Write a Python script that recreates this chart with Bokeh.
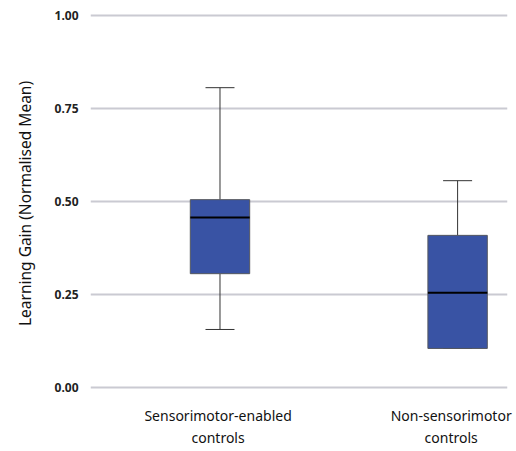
from bokeh.plotting import figure
from bokeh.models import Range1d, FixedTicker, ColumnDataSource
from bokeh.embed import file_html
from bokeh.resources import INLINE

categories = ["Sensorimotor-enabled\ncontrols", "Non-sensorimotor\ncontrols"]
lower_whisker = [0.156, 0.105]
q1 = [0.306, 0.105]
median = [0.457, 0.255]
q3 = [0.505, 0.409]
upper_whisker = [0.806, 0.556]
y_ticks = [0.0, 0.25, 0.5, 0.75, 1.0]

xpos = list(range(len(categories)))
box_w = 0.25
cap_w = 0.122
label_shift = [-0.008, -0.027]  # keep the right label inside the canvas

src = ColumnDataSource(dict(
    x=xpos,
    q1=q1, q3=q3, med=median, lo=lower_whisker, hi=upper_whisker,
    ml=[x - box_w / 2 for x in xpos], mr=[x + box_w / 2 for x in xpos],
    cl=[x - cap_w / 2 for x in xpos], cr=[x + cap_w / 2 for x in xpos],
))

p = figure(width=516, height=451, output_backend="svg", toolbar_location=None,
           x_range=Range1d(-0.545, 1.21), y_range=Range1d(-0.0215, 1.0108),
           min_border_left=90, min_border_right=9, min_border_top=11, min_border_bottom=56)
p.outline_line_color = None

# whiskers
p.segment(x0="x", x1="x", y0="q3", y1="hi", source=src, line_color="#333333", line_width=1)
p.segment(x0="x", x1="x", y0="lo", y1="q1", source=src, line_color="#333333", line_width=1)
p.segment(x0="cl", x1="cr", y0="hi", y1="hi", source=src, line_color="#333333", line_width=1)
p.segment(x0="cl", x1="cr", y0="lo", y1="lo", source=src, line_color="#333333", line_width=1)

# boxes
p.vbar(x="x", width=box_w, bottom="q1", top="q3", source=src,
       fill_color="#3953a4", line_color="#55585f", line_width=1)
p.segment(x0="ml", x1="mr", y0="med", y1="med", source=src, line_color="#000000", line_width=2)

# grid
p.xgrid.grid_line_color = None
p.ygrid.grid_line_color = "#cacad2"
p.ygrid.grid_line_width = 2
p.ygrid.ticker = FixedTicker(ticks=y_ticks)
p.ygrid.level = "underlay"

# y axis
p.yaxis.ticker = FixedTicker(ticks=y_ticks)
p.yaxis.major_label_overrides = {t: f"{t:.2f}" for t in y_ticks}
p.yaxis.axis_line_color = None
p.yaxis.major_tick_line_color = None
p.yaxis.minor_tick_line_color = None
p.yaxis.major_label_standoff = 6
p.yaxis.major_label_text_font = "Noto Sans"
p.yaxis.major_label_text_font_size = "12px"
p.yaxis.major_label_text_font_style = "bold"
p.yaxis.major_label_text_color = "#222222"
p.yaxis.axis_label = "Learning Gain (Normalised Mean)"
p.yaxis.axis_label_text_font = "Noto Sans"
p.yaxis.axis_label_text_font_size = "15.5px"
p.yaxis.axis_label_text_font_style = "normal"
p.yaxis.axis_label_text_color = "#111111"
p.yaxis.axis_label_standoff = 16

# x axis
lab_pos = [x + s for x, s in zip(xpos, label_shift)]
p.xaxis.ticker = FixedTicker(ticks=lab_pos)
p.xaxis.major_label_overrides = {x: c for x, c in zip(lab_pos, categories)}
p.xaxis.axis_line_color = None
p.xaxis.major_tick_line_color = None
p.xaxis.minor_tick_line_color = None
p.xaxis.major_label_standoff = 4
p.xaxis.major_label_text_font = "Noto Sans"
p.xaxis.major_label_text_font_size = "14px"
p.xaxis.major_label_text_color = "#111111"

open("out.html", "w").write(file_html(p, INLINE))
